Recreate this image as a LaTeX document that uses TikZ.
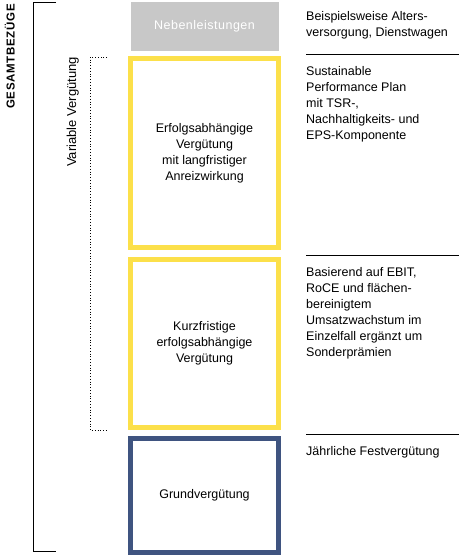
\documentclass[tikz,border=0pt]{standalone}
\usepackage{fontspec}
\setmainfont{Liberation Sans}
\definecolor{gelb}{HTML}{FCE04A}
\definecolor{blau}{HTML}{3F5480}
\definecolor{grau}{HTML}{C8C8C8}
\tikzset{
  baustein/.style={minimum width=148pt, inner sep=0pt, line width=5pt, align=center,
    font=\fontsize{12.5}{16}\selectfont},
  erlaeuterung/.style={anchor=north west, inner sep=0pt, align=left,
    font=\fontsize{12.5}{16}\selectfont},
  trenner/.style={line width=0.8pt}
}
\begin{document}
\begin{tikzpicture}[x=1pt,y=-1pt]
  \useasboundingbox (0,0) rectangle (460,556);

  % Bausteine
  \node[baustein, fill=grau, text=white, minimum height=49pt] (neben) at (204.5,26.5)
    {\addfontfeature{LetterSpace=4}Nebenleistungen};
  \node[baustein, draw=gelb, minimum height=189pt] (lti) at (204.5,153)
    {Erfolgsabhängige\\Vergütung\\mit langfristiger\\Anreizwirkung};
  \node[baustein, draw=gelb, minimum height=168pt] (sti) at (204.5,343.5)
    {Kurzfristige\\erfolgsabhängige\\Vergütung};
  \node[baustein, draw=blau, minimum height=114pt] (grund) at (204.5,495.5)
    {Grundvergütung};

  % Erlaeuterungen
  \node[erlaeuterung] (txtneben) at (306,11) {Beispielsweise Alters-\\versorgung, Dienstwagen};
  \node[erlaeuterung] (txtlti) at (306,66) {Sustainable\\Performance Plan\\mit TSR-,\\Nachhaltigkeits- und\\EPS-Komponente};
  \node[erlaeuterung] (txtsti) at (306,267) {Basierend auf EBIT,\\RoCE und flächen-\\bereinigtem\\Umsatzwachstum im\\Einzelfall ergänzt um\\Sonderprämien};
  \node[erlaeuterung] (txtgrund) at (306,446) {Jährliche Festvergütung};

  % Trennlinien
  \draw[trenner] (306,54) -- (459,54);
  \draw[trenner] (306,255) -- (459,255);
  \draw[trenner] (306,434) -- (459,434);

  % Klammern
  \draw[line width=0.9pt] (56,2.5) -- (33,2.5) -- (33,551.5) -- (56,551.5);
  \draw[dotted, line width=0.8pt] (107,57) -- (90,57) -- (90,430) -- (107,430);

  \node[rotate=90, anchor=south east, inner sep=0pt, font=\fontsize{11.5}{11.5}\selectfont\bfseries]
    (gesamt) at (15,4) {\addfontfeature{LetterSpace=6}GESAMTBEZÜGE};
  \node[rotate=90, anchor=south east, inner sep=0pt, font=\fontsize{13}{13}\selectfont]
    (variabel) at (79,57) {Variable Vergütung};
\end{tikzpicture}
\end{document}
